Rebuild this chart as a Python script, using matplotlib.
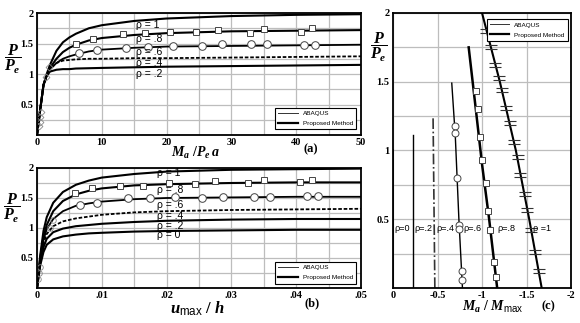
import matplotlib
matplotlib.use('Agg')
import matplotlib.pyplot as plt
from matplotlib.path import Path
from matplotlib.lines import Line2D
from matplotlib.ticker import MultipleLocator, FixedLocator

plt.rcParams['mathtext.fontset'] = 'custom'
plt.rcParams['mathtext.rm'] = 'Liberation Serif:bold'
plt.rcParams['mathtext.it'] = 'Liberation Serif:italic:bold'
plt.rcParams['mathtext.bf'] = 'Liberation Serif:bold'
plt.rcParams['mathtext.sf'] = 'Liberation Sans'
plt.rcParams['axes.unicode_minus'] = False

# ---------------- panel (a) data ----------------
a_x = [0, 0.5, 1, 1.5, 2, 3, 4, 5, 6, 8, 10, 15, 20, 30, 40, 50]
a_r1 = [0, 0.42, 0.82, 1.0, 1.15, 1.38, 1.52, 1.6, 1.66, 1.75, 1.8, 1.87, 1.91, 1.95, 1.97, 1.98]
a_r08 = [0, 0.42, 0.82, 0.98, 1.1, 1.25, 1.36, 1.43, 1.48, 1.55, 1.59, 1.64, 1.67, 1.7, 1.71, 1.72]
a_r06 = [0, 0.42, 0.82, 0.98, 1.08, 1.18, 1.25, 1.29, 1.32, 1.37, 1.4, 1.43, 1.45, 1.46, 1.47, 1.48]
a_r04 = [0, 0.42, 0.82, 0.98, 1.08, 1.18, 1.22, 1.23, 1.24, 1.25, 1.25, 1.26, 1.26, 1.27, 1.28, 1.29]
a_r02 = [0, 0.42, 0.82, 0.97, 1.04, 1.07, 1.08, 1.08, 1.09, 1.095, 1.1, 1.11, 1.12, 1.13, 1.14, 1.15]
a_sq_x = [6.0, 8.6, 13.3, 16.6, 20.5, 24.6, 27.9, 32.8, 35.1, 40.8, 42.5]
a_sq_y = [1.50, 1.57, 1.65, 1.67, 1.69, 1.69, 1.72, 1.67, 1.74, 1.69, 1.75]
a_ci_x = [6.5, 9.2, 13.7, 17.1, 21.0, 25.4, 28.5, 33.0, 35.5, 41.2, 42.9]
a_ci_y = [1.35, 1.39, 1.43, 1.45, 1.46, 1.46, 1.49, 1.49, 1.49, 1.48, 1.48]
a_or_x = [0.3, 0.4, 0.5, 0.6, 1.4, 1.9]
a_or_y = [0.15, 0.22, 0.3, 0.38, 0.95, 1.12]
a_lab_y = [1.8, 1.57, 1.36, 1.18, 1.0]
a_labels = ['ρ = 1', 'ρ = .8', 'ρ = .6', 'ρ = .4', 'ρ = .2']
a_xticks = [0, 10, 20, 30, 40, 50]

# ---------------- panel (b) data ----------------
b_x = [0, 0.0005, 0.001, 0.0015, 0.0025, 0.004, 0.006, 0.008, 0.01, 0.015, 0.02, 0.03, 0.04, 0.05]
b_r1 = [0, 0.55, 0.95, 1.18, 1.42, 1.6, 1.72, 1.79, 1.84, 1.9, 1.94, 1.97, 1.98, 1.99]
b_r08 = [0, 0.5, 0.85, 1.05, 1.28, 1.45, 1.56, 1.62, 1.66, 1.71, 1.73, 1.75, 1.76, 1.76]
b_r06 = [0, 0.47, 0.8, 0.98, 1.15, 1.28, 1.37, 1.41, 1.44, 1.48, 1.5, 1.51, 1.52, 1.52]
b_r04 = [0, 0.45, 0.75, 0.9, 1.03, 1.11, 1.16, 1.19, 1.22, 1.26, 1.28, 1.3, 1.31, 1.32]
b_r02 = [0, 0.42, 0.68, 0.82, 0.93, 0.99, 1.03, 1.05, 1.07, 1.1, 1.12, 1.14, 1.15, 1.15]
b_r0 = [0, 0.38, 0.6, 0.72, 0.81, 0.86, 0.89, 0.91, 0.92, 0.94, 0.95, 0.96, 0.97, 0.97]
b_sq_x = [0.0059, 0.0085, 0.0128, 0.0164, 0.0203, 0.0244, 0.0275, 0.0326, 0.035, 0.0406, 0.0424]
b_sq_y = [1.58, 1.67, 1.70, 1.70, 1.75, 1.73, 1.78, 1.75, 1.80, 1.77, 1.80]
b_ci_x = [0.0066, 0.0092, 0.014, 0.0174, 0.0213, 0.0255, 0.0287, 0.0335, 0.036, 0.0417, 0.0434]
b_ci_y = [1.38, 1.42, 1.50, 1.50, 1.52, 1.50, 1.52, 1.52, 1.52, 1.53, 1.53]
b_or_x = [0.0002, 0.0003, 0.0004, 0.002, 0.0025]
b_or_y = [0.15, 0.25, 0.35, 1.0, 1.13]
b_lab_y = [1.92, 1.63, 1.38, 1.2, 1.03, 0.88]
b_labels = ['ρ = 1', 'ρ = .8', 'ρ = .6', 'ρ = .4', 'ρ = .2', 'ρ = 0']
b_xticks = [0, 0.01, 0.02, 0.03, 0.04, 0.05]
b_xticklabels = ['0', '.01', '.02', '.03', '.04', '.05']

# ---------------- panel (c) data ----------------
c_r0_x = [0, 0]
c_r0_y = [0, 1.0]
c_r02_x = [-0.22, -0.22]
c_r02_y = [0, 1.11]
c_r04_x = [-0.47, -0.45]
c_r04_y = [0, 1.24]
c_r06_x = [-0.78, -0.74, -0.70, -0.66]
c_r06_y = [0, 0.5, 1.1, 1.49]
c_r08_x = [-1.17, -1.08, -1.0, -0.93, -0.85]
c_r08_y = [0, 0.5, 0.9, 1.3, 1.75]
c_r1_x = [-1.67, -1.53, -1.38, -1.2, -1.0]
c_r1_y = [0, 0.5, 1.0, 1.5, 2.0]
c_ci_x = [-0.70, -0.70, -0.72, -0.74, -0.74, -0.77, -0.775]
c_ci_y = [1.18, 1.13, 0.80, 0.46, 0.43, 0.12, 0.06]
c_sq_x = [-0.93, -0.955, -0.98, -1.0, -1.04, -1.07, -1.09, -1.13, -1.16]
c_sq_y = [1.43, 1.30, 1.10, 0.93, 0.76, 0.56, 0.42, 0.19, 0.08]
c_eq_x = [-1.05, -1.10, -1.15, -1.19, -1.22, -1.27, -1.31, -1.36, -1.40, -1.43, -1.48, -1.51, -1.55, -1.60, -1.64]
c_eq_y = [1.87, 1.75, 1.62, 1.53, 1.44, 1.31, 1.20, 1.06, 0.95, 0.82, 0.68, 0.565, 0.42, 0.26, 0.12]
c_lab_x = [-0.01, -0.24, -0.49, -0.79, -1.17, -1.57]
c_labels = ['ρ=0', 'ρ=.2', 'ρ=.4', 'ρ=.6', 'ρ=.8', 'ρ =1']
c_lab_y = 0.43
c_xticks = [0, -0.5, -1, -1.5, -2]
c_xticklabels = ['0', '-0.5', '-1', '-1.5', '-2']

y_ticks = [0.5, 1, 1.5, 2]
y_ticklabels = ['0.5', '1', '1.5', '2']

SERIF = 'Liberation Serif'
SANS = 'Liberation Sans'
GRID = '#bdbdbd'

fig = plt.figure(figsize=(5.8, 3.23), dpi=100)
ax_a = fig.add_axes([0.0638, 0.582, 0.5586, 0.3777])
ax_b = fig.add_axes([0.0638, 0.1084, 0.5586, 0.3715])
ax_c = fig.add_axes([0.6776, 0.1084, 0.307, 0.8514])


def style(ax, xmin, xmax, xstep, xticks, xticklabels):
    ax.set_xlim(xmin, xmax)
    ax.set_ylim(0, 2)
    ax.xaxis.set_major_locator(FixedLocator(xticks))
    ax.set_xticklabels(xticklabels)
    ax.xaxis.set_minor_locator(MultipleLocator(xstep))
    ax.yaxis.set_major_locator(FixedLocator(y_ticks))
    ax.set_yticklabels(y_ticklabels)
    ax.yaxis.set_minor_locator(MultipleLocator(0.25))
    ax.grid(True, which='both', color=GRID, lw=0.9)
    ax.set_axisbelow(True)
    ax.tick_params(which='both', length=0, pad=2.5)
    for lab in ax.get_xticklabels() + ax.get_yticklabels():
        lab.set_fontfamily(SERIF)
        lab.set_fontweight('bold')
        lab.set_fontsize(7.5)
    for s in ax.spines.values():
        s.set_linewidth(1.3)


def legend(ax, **kw):
    h = [Line2D([], [], color='#333333', lw=0.7), Line2D([], [], color='black', lw=1.6)]
    lg = ax.legend(h, ['ABAQUS', 'Proposed Method'], fancybox=False, framealpha=1,
                   edgecolor='black', prop={'family': SANS, 'size': 4.6},
                   handlelength=3.0, borderpad=0.5, labelspacing=0.7, **kw)
    lg.get_frame().set_linewidth(0.8)


def ylab(x, y):
    fig.text(x, y, r'$\dfrac{P}{P_e}$', fontsize=11.5, ha='center', va='center')


mk = dict(mfc='white', mec='#444444', mew=0.7, ls='none')

# ---- panel (a)
ax = ax_a
style(ax, 0, 50, 5, a_xticks, [str(v) for v in a_xticks])
ax.plot(a_x, a_r1, color='black', lw=1.5)
ax.plot(a_x, a_r08, color='black', lw=1.5)
ax.plot(a_x, a_r06, color='black', lw=1.3)
ax.plot(a_x, a_r04, color='black', lw=1.3, ls=(0, (2, 1)))
ax.plot(a_x, a_r02, color='black', lw=1.5)
ax.plot(a_sq_x, a_sq_y, marker='s', ms=5, **mk)
ax.plot(a_ci_x, a_ci_y, marker='o', ms=5.5, **mk)
ax.plot(a_or_x, a_or_y, marker='D', ms=3.5, mfc='none', mec='#888888', mew=0.6, ls='none')
for yy, t in zip(a_lab_y, a_labels):
    ax.text(15.3, yy, t, fontsize=7.5, family=SANS, va='center', ha='left')
legend(ax, loc='lower right', bbox_to_anchor=(0.995, 0.02))
ax.text(0.49, -0.15, r'$M_a\ /P_e\,a$', transform=ax.transAxes, ha='center', va='center', fontsize=10)
ax.text(0.845, -0.12, '(a)', transform=ax.transAxes, ha='center', va='center', fontsize=9,
        family=SERIF, weight='bold')
ylab(0.022, 0.815)

# ---- panel (b)
ax = ax_b
style(ax, 0, 0.05, 0.005, b_xticks, b_xticklabels)
ax.plot(b_x, b_r1, color='black', lw=1.5)
ax.plot(b_x, b_r08, color='black', lw=1.5)
ax.plot(b_x, b_r06, color='black', lw=1.3)
ax.plot(b_x, b_r04, color='black', lw=1.3, ls=(0, (2, 1)))
ax.plot(b_x, b_r02, color='black', lw=1.5)
ax.plot(b_x, b_r0, color='black', lw=1.5)
ax.plot(b_sq_x, b_sq_y, marker='s', ms=5, **mk)
ax.plot(b_ci_x, b_ci_y, marker='o', ms=5.5, **mk)
ax.plot(b_or_x, b_or_y, marker='o', ms=4, mfc='none', mec='#888888', mew=0.6, ls='none')
for yy, t in zip(b_lab_y, b_labels):
    ax.text(0.0185, yy, t, fontsize=7.5, family=SANS, va='center', ha='left')
legend(ax, loc='lower right', bbox_to_anchor=(0.995, 0.01))
ax.text(0.495, -0.17, r'$u_{\mathsf{max}}\ /\ h$', transform=ax.transAxes, ha='center', va='center', fontsize=12)
ax.text(0.85, -0.13, '(b)', transform=ax.transAxes, ha='center', va='center', fontsize=9,
        family=SERIF, weight='bold')
ylab(0.02, 0.355)

# ---- panel (c)
ax = ax_c
style(ax, 0, -2, 0.5, c_xticks, c_xticklabels)
ax.plot(c_r0_x, c_r0_y, color='black', lw=1.2)
ax.plot(c_r02_x, c_r02_y, color='black', lw=1.0)
ax.plot(c_r04_x, c_r04_y, color='#333333', lw=1.2, ls='-.')
ax.plot(c_r06_x, c_r06_y, color='black', lw=1.0)
ax.plot(c_r08_x, c_r08_y, color='black', lw=1.8)
ax.plot(c_r1_x, c_r1_y, color='black', lw=1.5)
ax.plot(c_ci_x, c_ci_y, marker='o', ms=5, **mk)
ax.plot(c_sq_x, c_sq_y, marker='s', ms=5, **mk)
eq = Path([(-1, 0.3), (1, 0.3), (-1, -0.3), (1, -0.3)],
          [Path.MOVETO, Path.LINETO, Path.MOVETO, Path.LINETO])
ax.plot(c_eq_x, c_eq_y, marker=eq, ms=8, mfc='none', mec='#333333', mew=0.8, ls='none')
for xx, t in zip(c_lab_x, c_labels):
    ax.text(xx, c_lab_y, t, fontsize=6.5, family=SANS, va='center', ha='left')
legend(ax, loc='upper right', bbox_to_anchor=(1.0, 0.99))
ax.text(0.56, -0.07, r'$M_a\ /\ M_{\mathsf{max}}$', transform=ax.transAxes, ha='center', va='center', fontsize=10)
ax.text(0.87, -0.068, '(c)', transform=ax.transAxes, ha='center', va='center', fontsize=9,
        family=SERIF, weight='bold')
ylab(0.653, 0.855)

fig.savefig('out.png', dpi=100)
